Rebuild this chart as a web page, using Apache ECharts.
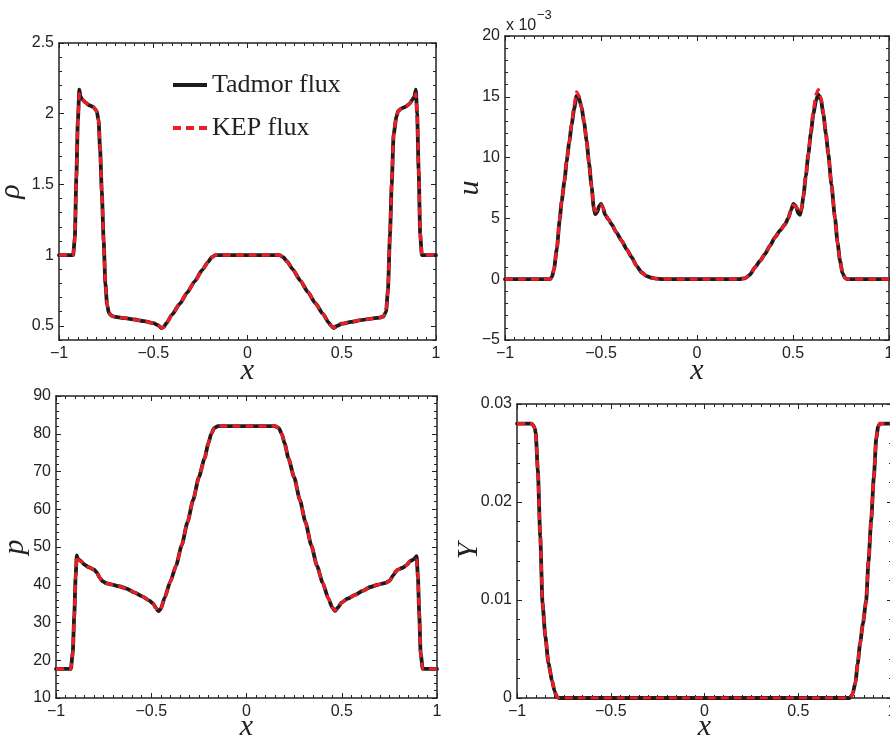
<!DOCTYPE html>
<html><head><meta charset="utf-8">
<script src="https://cdn.jsdelivr.net/npm/echarts@6/dist/echarts.min.js"></script>
<style>html,body{margin:0;padding:0;background:#fff}#c{width:890px;height:735px}</style>
</head><body><div id="c"></div>
<script>
// ---------- DATA ----------
const seriesNames = ['Tadmor flux', 'KEP flux'];
const xTickLabels = [-1, -0.5, 0, 0.5, 1];

// density rho
const rhoX = [-1.0,-0.95,-0.925,-0.916,-0.908,-0.9,-0.892,-0.886,-0.876,-0.86,-0.84,-0.82,-0.80,-0.79,-0.782,-0.773,-0.763,-0.754,-0.745,-0.735,-0.72,-0.70,-0.65,-0.60,-0.55,-0.50,-0.475,-0.458,-0.445,-0.43,-0.40,-0.36,-0.32,-0.28,-0.24,-0.21,-0.19,-0.17,0.0,0.17,0.19,0.21,0.24,0.28,0.32,0.36,0.40,0.43,0.445,0.458,0.475,0.50,0.55,0.60,0.65,0.70,0.72,0.735,0.745,0.756,0.765,0.775,0.79,0.80,0.82,0.84,0.86,0.875,0.885,0.893,0.90,0.908,0.916,0.925,0.95,1.0];
const rhoTadmor = [1.0,1.0,1.0,1.12,1.55,1.95,2.17,2.12,2.10,2.08,2.06,2.05,2.02,1.95,1.75,1.45,1.1,0.8,0.65,0.59,0.57,0.563,0.555,0.545,0.533,0.52,0.505,0.485,0.49,0.52,0.58,0.655,0.735,0.815,0.895,0.95,0.985,1.0,1.0,1.0,0.985,0.955,0.9,0.82,0.74,0.66,0.585,0.525,0.498,0.485,0.5,0.515,0.528,0.54,0.55,0.558,0.565,0.6,0.75,1.15,1.5,1.85,1.98,2.02,2.04,2.05,2.07,2.10,2.12,2.17,2.0,1.6,1.15,1.0,1.0,1.0];
const rhoKEP    = [1.0,1.0,1.0,1.12,1.55,1.95,2.14,2.11,2.10,2.08,2.06,2.05,2.02,1.95,1.75,1.45,1.1,0.8,0.65,0.59,0.57,0.563,0.555,0.545,0.533,0.52,0.505,0.487,0.49,0.52,0.58,0.655,0.735,0.815,0.895,0.95,0.985,1.0,1.0,1.0,0.985,0.955,0.9,0.82,0.74,0.66,0.585,0.525,0.498,0.487,0.5,0.515,0.528,0.54,0.55,0.558,0.565,0.6,0.75,1.15,1.5,1.85,1.98,2.02,2.04,2.05,2.07,2.10,2.11,2.14,2.0,1.6,1.15,1.0,1.0,1.0];

// velocity u (units of 1e-3)
const uX = [-1.0,-0.9,-0.8,-0.765,-0.755,-0.745,-0.73,-0.715,-0.705,-0.69,-0.679,-0.665,-0.653,-0.64,-0.627,-0.615,-0.601,-0.588,-0.575,-0.562,-0.549,-0.538,-0.53,-0.52,-0.51,-0.5,-0.49,-0.479,-0.46,-0.444,-0.42,-0.392,-0.366,-0.34,-0.315,-0.288,-0.262,-0.236,-0.21,-0.18,0.0,0.22,0.25,0.275,0.302,0.328,0.354,0.38,0.406,0.432,0.458,0.475,0.49,0.502,0.515,0.528,0.536,0.545,0.554,0.567,0.58,0.593,0.606,0.62,0.632,0.645,0.658,0.671,0.684,0.70,0.719,0.732,0.745,0.758,0.771,0.785,0.9,1.0];
const uTadmor = [0,0,0,0,0.2,0.8,2.5,4.9,6.4,8.1,9.7,11.3,12.7,14.0,15.1,14.9,14.1,12.9,11.4,9.5,7.6,5.9,5.35,5.5,6.0,6.2,5.9,5.3,4.9,4.5,3.85,3.15,2.45,1.8,1.1,0.55,0.25,0.12,0.04,0,0,0,0.08,0.35,0.97,1.5,2.07,2.75,3.44,4.0,4.5,5.0,5.7,6.2,6.0,5.4,5.3,5.8,6.8,8.5,10.3,12.0,13.6,14.7,15.2,14.8,13.6,12.0,10.3,7.8,5.0,3.0,1.5,0.5,0.1,0,0,0];
const uKEP    = [0,0,0,0,0.2,0.8,2.5,4.9,6.4,8.1,9.7,11.3,12.8,14.3,15.4,15.1,14.1,12.9,11.4,9.5,7.6,6.0,5.6,5.7,6.0,6.1,5.9,5.4,4.9,4.5,3.85,3.15,2.45,1.8,1.1,0.55,0.25,0.12,0.04,0,0,0,0.08,0.35,0.97,1.5,2.07,2.75,3.44,4.0,4.5,5.0,5.7,6.1,6.0,5.6,5.5,5.9,6.8,8.5,10.3,12.1,13.9,15.2,15.6,15.0,13.7,12.0,10.3,7.8,5.0,3.0,1.5,0.5,0.1,0,0,0];

// pressure p
const pX = [-1.0,-0.95,-0.922,-0.912,-0.904,-0.897,-0.891,-0.885,-0.87,-0.85,-0.83,-0.80,-0.785,-0.77,-0.755,-0.735,-0.71,-0.67,-0.63,-0.59,-0.55,-0.51,-0.49,-0.475,-0.462,-0.45,-0.43,-0.40,-0.37,-0.34,-0.31,-0.28,-0.25,-0.22,-0.20,-0.185,-0.17,-0.15,0.0,0.15,0.17,0.185,0.20,0.22,0.25,0.28,0.31,0.34,0.37,0.40,0.43,0.45,0.465,0.48,0.50,0.53,0.57,0.61,0.65,0.69,0.73,0.75,0.77,0.79,0.82,0.84,0.86,0.88,0.893,0.90,0.907,0.914,0.925,0.95,1.0];
const pTadmor = [17.7,17.7,17.7,22,32,42,47.8,46.8,46.3,45.3,44.7,44.0,43.2,41.8,40.9,40.4,40.1,39.6,39.0,38.0,37.0,35.8,35.0,33.8,33.0,33.6,36.5,40.8,45,50.5,56.5,62.5,68.5,73.5,77.5,80,81.5,82,82,82,81.5,80,77.5,73.5,68.5,62.5,56.5,50.5,45,40.5,36.3,34,33.0,34.0,35.3,36.3,37.3,38.4,39.4,40.0,40.5,41.0,42.5,43.9,44.5,45.2,46.3,46.8,47.6,42,32,22,17.7,17.7,17.7];
const pKEP    = [17.7,17.7,17.7,22,32,42,47.6,46.6,46.3,45.3,44.7,44.0,43.2,41.8,40.9,40.4,40.1,39.6,39.0,38.0,37.0,35.8,35.0,33.8,33.1,33.6,36.5,40.8,45,50.5,56.5,62.5,68.5,73.5,77.5,80,81.5,82,82,82,81.5,80,77.5,73.5,68.5,62.5,56.5,50.5,45,40.5,36.3,34,33.1,34.0,35.3,36.3,37.3,38.4,39.4,40.0,40.5,41.0,42.5,43.9,44.5,45.2,46.3,46.6,46.6,42,32,22,17.7,17.7,17.7];

// mass fraction Y
const yX = [-1.0,-0.95,-0.922,-0.912,-0.905,-0.9,-0.889,-0.876,-0.864,-0.849,-0.832,-0.813,-0.80,-0.787,-0.775,0.0,0.775,0.79,0.805,0.817,0.83,0.845,0.862,0.875,0.889,0.903,0.916,0.926,0.935,0.96,1.0];
const yTadmor = [0.028,0.028,0.028,0.0278,0.0275,0.027,0.0233,0.0165,0.0097,0.0063,0.0035,0.0018,0.0007,0.0001,0,0,0,0.0004,0.0016,0.0035,0.0056,0.0076,0.0099,0.014,0.0182,0.0225,0.0265,0.0277,0.028,0.028,0.028];
const yKEP    = [0.028,0.028,0.028,0.0278,0.0275,0.027,0.0233,0.0165,0.0097,0.0063,0.0035,0.0018,0.0007,0.0001,0,0,0,0.0004,0.0016,0.0035,0.0056,0.0076,0.0099,0.014,0.0182,0.0225,0.0265,0.0277,0.028,0.028,0.028];

// tick labels
const rhoTicks = [0.5, 1, 1.5, 2, 2.5];
const uTicks = [-5, 0, 5, 10, 15, 20];
const pTicks = [10, 20, 30, 40, 50, 60, 70, 80, 90];
const yTicks = [0, 0.01, 0.02, 0.03];

// ---------- STYLE ----------
const INK = '#222';
const BLACK = '#1c1c1c';
const RED = '#ee1c25';
const numFont = 'Liberation Sans';
const mathFont = 'Liberation Serif';
const fmt = v => String(+v.toFixed(6)).replace('-', '\u2212');

const gridBoxes = [
  { left: 59, top: 43, width: 377, height: 297 },
  { left: 505, top: 36, width: 384, height: 304 },
  { left: 56, top: 396, width: 381, height: 302 },
  { left: 517, top: 404, width: 375, height: 294 }
];
const grids = gridBoxes.map(b => Object.assign({ outerBoundsMode: 'none', containLabel: false }, b));

const xAxis = [], yAxis = [];
function lineCfg() { return { show: true, onZero: false, lineStyle: { color: INK, width: 1.5 } }; }
function tickCfg(len, vals) { const t = { show: true, inside: true, length: len, lineStyle: { color: INK, width: 1 } }; if (vals) t.customValues = vals; return t; }
function minorCfg(n) { return { show: true, splitNumber: n, length: 3, lineStyle: { color: INK, width: 1 } }; }
const labelCfg = (m) => ({ show: true, fontFamily: numFont, fontSize: 16, color: INK, margin: m, formatter: fmt });
const nameStyle = { fontFamily: mathFont, fontStyle: 'italic', fontSize: 30, color: INK };

function addX(g, nameGap) {
  const base = { gridIndex: g, type: 'value', min: -1, max: 1, interval: 0.5, splitLine: { show: false }, axisLine: lineCfg(), axisTick: tickCfg(5), minorTick: minorCfg(10) };
  xAxis.push(Object.assign({}, base, { position: 'bottom', axisLabel: labelCfg(6), name: 'x', nameLocation: 'middle', nameGap: nameGap, nameMoveOverlap: false, nameTextStyle: nameStyle }));
  xAxis.push(Object.assign({}, base, { position: 'top', axisLabel: { show: false } }));
  return xAxis.length - 2;
}
function addY(g, min, max, interval, minorSplit, name, nameGap, labelVals) {
  const base = { gridIndex: g, type: 'value', min: min, max: max, interval: interval, splitLine: { show: false }, axisLine: lineCfg() };
  const left = Object.assign({}, base, { position: 'left', axisTick: tickCfg(5), minorTick: minorCfg(minorSplit), axisLabel: labelCfg(5), name: name, nameLocation: 'middle', nameGap: nameGap, nameMoveOverlap: false, nameTextStyle: nameStyle });
  const right = Object.assign({}, base, { position: 'right', axisTick: tickCfg(5), minorTick: minorCfg(minorSplit), axisLabel: { show: false } });
  if (labelVals) {
    left.axisLabel.customValues = labelVals;
    left.axisTick = tickCfg(3); left.minorTick = { show: false };
    right.axisTick = tickCfg(3); right.minorTick = { show: false };
  }
  yAxis.push(left); yAxis.push(right);
  const idx = yAxis.length - 2;
  if (labelVals) {
    yAxis.push({ gridIndex: g, type: 'value', min: min, max: max, position: 'left', offset: 0, axisLine: { show: false, onZero: false }, splitLine: { show: false }, axisLabel: { show: false }, axisTick: tickCfg(5, labelVals) });
    yAxis.push({ gridIndex: g, type: 'value', min: min, max: max, position: 'right', offset: 0, axisLine: { show: false, onZero: false }, splitLine: { show: false }, axisLabel: { show: false }, axisTick: tickCfg(5, labelVals) });
  }
  return idx;
}

const x0 = addX(0, 16), y0 = addY(0, 0.4, 2.5, 0.1, 1, '\u03c1', 33, rhoTicks);
const x1 = addX(1, 16), y1 = addY(1, uTicks[0], uTicks[uTicks.length-1], 5, 5, 'u', 20);
const x2 = addX(2, 14), y2 = addY(2, pTicks[0], pTicks[pTicks.length-1], 10, 5, 'p', 26);
const x3 = addX(3, 14), y3 = addY(3, yTicks[0], yTicks[yTicks.length-1], 0.01, 5, 'Y', 33);

const zip = (xs, ys) => xs.map((x, i) => [x, ys[i]]);
function pair(xi, yi, xs, a, b) {
  return [
    { name: seriesNames[0], type: 'line', xAxisIndex: xi, yAxisIndex: yi, data: zip(xs, a), symbol: 'none', smooth: 0.2, smoothMonotone: 'x', color: BLACK, lineStyle: { color: BLACK, width: 3.8, cap: 'round', join: 'round' }, z: 2, animation: false },
    { name: seriesNames[1], type: 'line', xAxisIndex: xi, yAxisIndex: yi, data: zip(xs, b), symbol: 'none', smooth: 0.2, smoothMonotone: 'x', color: RED, lineStyle: { color: RED, width: 3.2, type: [8, 5], join: 'round' }, z: 3, animation: false }
  ];
}
const series = [].concat(
  pair(x0, y0, rhoX, rhoTadmor, rhoKEP),
  pair(x1, y1, uX, uTadmor, uKEP),
  pair(x2, y2, pX, pTadmor, pKEP),
  pair(x3, y3, yX, yTadmor, yKEP)
);

const option = {
  backgroundColor: '#fff',
  animation: false,
  grid: grids,
  xAxis: xAxis,
  yAxis: yAxis,
  title: [
    { text: 'x 10', left: 506, top: 18, padding: 0, textStyle: { fontFamily: numFont, fontSize: 16, fontWeight: 'normal', color: INK } },
    { text: '\u22123', left: 537, top: 9, padding: 0, textStyle: { fontFamily: numFont, fontSize: 13, fontWeight: 'normal', color: INK } }
  ],
  legend: {
    orient: 'vertical', left: 173, top: 72, padding: 0, itemWidth: 34, itemHeight: 4, itemGap: 17,
    textStyle: { fontFamily: mathFont, fontSize: 26, color: INK },
    data: [
      { name: seriesNames[0], icon: 'rect' },
      { name: seriesNames[1], icon: 'path://M0,0h8v4h-8z M13,0h8v4h-8z M26,0h8v4h-8z' }
    ]
  },
  series: series
};
const chart = echarts.init(document.getElementById('c'), null, { renderer: 'canvas' });
chart.setOption(option);
</script></body></html>
